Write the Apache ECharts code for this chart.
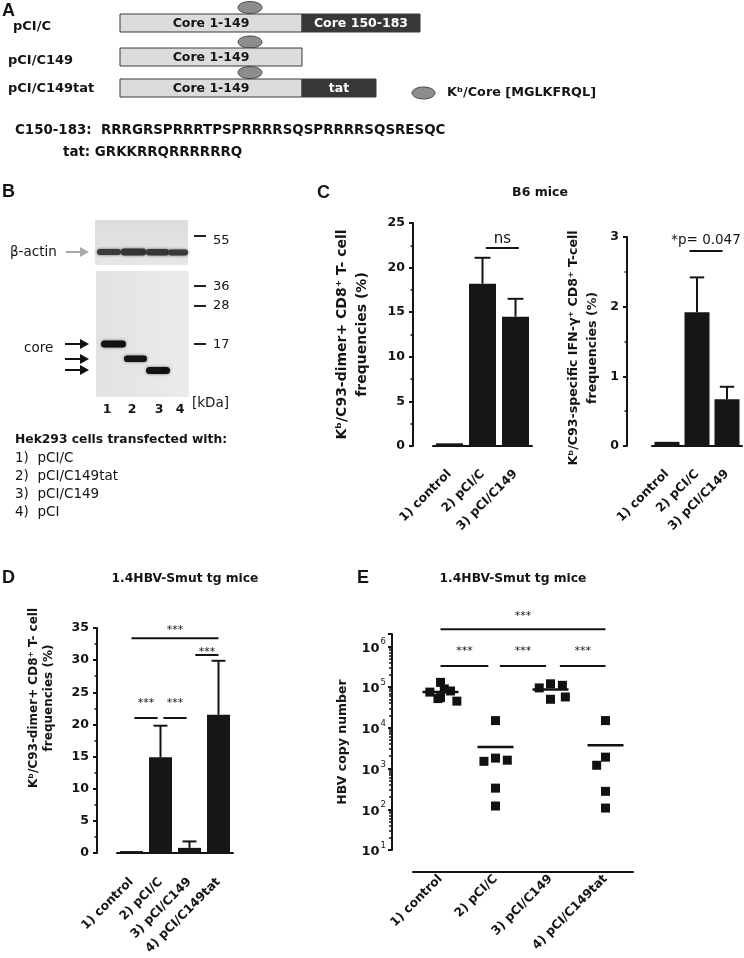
<!DOCTYPE html>
<html><head><meta charset="utf-8">
<script src="https://cdn.jsdelivr.net/npm/echarts@6/dist/echarts.min.js"></script>
<style>html,body{margin:0;padding:0;background:#fff}#chart{width:744px;height:958px}</style>
</head><body><div id="chart"></div>
<script>
// ---------------- data ----------------
const cCategories = ['1) control', '2) pCI/C', '3) pCI/C149'];
const cDimerMean = [0.3, 18.2, 14.5];
const cDimerSD = [0, 2.9, 2.0];
const cIfnMean = [0.06, 1.92, 0.67];
const cIfnSD = [0, 0.5, 0.18];
const dCategories = ['1) control', '2) pCI/C', '3) pCI/C149', '4) pCI/C149tat'];
const dDimerMean = [0.3, 14.9, 0.8, 21.5];
const dDimerSD = [0, 4.9, 1.0, 8.4];
const eCategories = ['1) control', '2) pCI/C', '3) pCI/C149', '4) pCI/C149tat'];
const eControl = [130000, 55000, 75000, 80000, 45000, 52000, 90000];
const ePCIC = [15000, 1800, 1500, 1600, 330, 120];
const ePCIC149 = [120000, 95000, 110000, 50000, 57000];
const ePCIC149tat = [15000, 1900, 1200, 275, 107];
const eGroups = [eControl, ePCIC, ePCIC149, ePCIC149tat];
const eAxisMin = 10, eAxisMax = 2000000;
const eMinorTickLog = [];
[1, 2, 3, 4, 5, 6].forEach(function (d) { for (let k = 2; k <= 9; k++) { const v = Math.log10(k) + d; if (v <= Math.log10(eAxisMax)) eMinorTickLog.push(v); } });
const cDimerBrackets = [{ from: 1.1, to: 2.1, y: 22.2, text: 'ns' }];
const cIfnBrackets = [{ from: 0.75, to: 1.85, y: 2.8, text: '*p= 0.047' }];
const dBrackets = [
  { from: 0, to: 3, y: 33.4, text: '***' },
  { from: 0.1, to: 0.9, y: 21, text: '***' },
  { from: 1.1, to: 1.9, y: 21, text: '***' },
  { from: 2.2, to: 3, y: 30.8, text: '***' }
];
const eBrackets = [
  { from: 0, to: 3, y: 2.6e6, text: '***' },
  { from: 0, to: 0.87, y: 3.3e5, text: '***' },
  { from: 1.08, to: 1.92, y: 3.3e5, text: '***' },
  { from: 2.17, to: 3, y: 3.3e5, text: '***' }
];

// ---------------- styles ----------------
const FF = "'DejaVu Sans', sans-serif";
const INK = '#141414';
const bold = function (s) { return 'bold ' + s + 'px ' + FF; };
const reg = function (s) { return s + 'px ' + FF; };

function yAxisBase(grid, offset, extra) {
  return Object.assign({
    gridIndex: grid, type: 'value', offset: offset,
    axisLine: { show: true, lineStyle: { color: INK, width: 2 } },
    axisTick: { show: true, length: 4, lineStyle: { color: INK, width: 2 } },
    minorTick: { show: true, splitNumber: 2, length: 2.5, lineStyle: { color: INK, width: 1.5 } },
    splitLine: { show: false }, minorSplitLine: { show: false },
    axisLabel: { color: INK, fontFamily: FF, fontWeight: 'bold', fontSize: 12.5, margin: 8 },
    nameLocation: 'middle', nameRotate: 90
  }, extra);
}
function xAxisBase(grid, offset, cats, extra) {
  return Object.assign({
    gridIndex: grid, type: 'category', data: cats, offset: offset,
    axisLine: { show: true, lineStyle: { color: INK, width: 2 } },
    axisTick: { show: false },
    axisLabel: { interval: 0, rotate: 45, color: INK, fontFamily: FF, fontWeight: 'bold', fontSize: 12.3, margin: 5 }
  }, extra);
}
function errRender(params, api) {
  const x = api.value(0), m = api.value(1), e = api.value(2);
  if (!(e > 0)) return null;
  const p0 = api.coord([x, m]);
  const p1 = api.coord([x, m + e]);
  const hw = api.size([1, 0])[0] * 0.24;
  return { type: 'group', children: [
    { type: 'line', shape: { x1: p0[0], y1: p0[1], x2: p1[0], y2: p1[1] }, style: { stroke: INK, lineWidth: 2 } },
    { type: 'line', shape: { x1: p1[0] - hw, y1: p1[1], x2: p1[0] + hw, y2: p1[1] }, style: { stroke: INK, lineWidth: 2 } }
  ] };
}
function errData(means, sds) { return means.map(function (m, i) { return [i, m, sds[i]]; }); }

const scatterData = [];
eGroups.forEach(function (g, gi) { g.forEach(function (v) { scatterData.push([gi, v]); }); });
const meanData = eGroups.map(function (g, gi) { return [gi, g.reduce(function (a, b) { return a + b; }, 0) / g.length]; });

const option = {
  animation: false,
  backgroundColor: '#fff',
  grid: [
    { left: 433, top: 223, width: 99, height: 223 },
    { left: 652, top: 237, width: 90, height: 209 },
    { left: 117, top: 628, width: 116, height: 225 },
    { left: 413, top: 634, width: 220, height: 216 }
  ],
  xAxis: [
    xAxisBase(0, 21, cCategories),
    xAxisBase(1, 21, cCategories),
    xAxisBase(2, 22, dCategories),
    xAxisBase(3, 22, eCategories, { jitter: 40, jitterOverlap: false, jitterMargin: 3 }),
    { gridIndex: 3, type: 'category', data: eCategories, show: false }
  ],
  yAxis: [
    yAxisBase(0, 20, { min: 0, max: 25, interval: 5,
      name: 'K\u1d47/C93-dimer+ CD8\u207a T- cell\nfrequencies (%)', nameGap: 41,
      nameTextStyle: { color: INK, fontFamily: FF, fontWeight: 'bold', fontSize: 14, lineHeight: 20 } }),
    yAxisBase(1, 25, { min: 0, max: 3, interval: 1,
      name: 'K\u1d47/C93-specific IFN-\u03b3\u207a CD8\u207a T-cell\nfrequencies (%)', nameGap: 25,
      nameTextStyle: { color: INK, fontFamily: FF, fontWeight: 'bold', fontSize: 12.6, lineHeight: 19, padding: [0, 13, 0, 0] } }),
    yAxisBase(2, 20, { min: 0, max: 35, interval: 5,
      name: 'K\u1d47/C93-dimer+ CD8\u207a T- cell\nfrequencies (%)', nameGap: 41,
      nameTextStyle: { color: INK, fontFamily: FF, fontWeight: 'bold', fontSize: 12, lineHeight: 15, padding: [0, 0, 0, 85] } }),
    yAxisBase(3, 21, { type: 'log', logBase: 10, min: eAxisMin, max: eAxisMax, minorTick: { show: false },
      name: 'HBV copy number', nameGap: 43,
      nameTextStyle: { color: INK, fontFamily: FF, fontWeight: 'bold', fontSize: 12.5 },
      axisLabel: {
        margin: 6,
        formatter: function (v) {
          const e = Math.round(Math.log10(v));
          if (Math.abs(v - Math.pow(10, e)) > 1e-6 * v) return '';
          return '{b|10}{s|' + e + '}';
        },
        rich: {
          b: { fontFamily: FF, fontWeight: 'bold', fontSize: 13, color: INK, verticalAlign: 'bottom', lineHeight: 17 },
          s: { fontFamily: FF, fontSize: 8.5, color: INK, verticalAlign: 'top', lineHeight: 17, padding: [0, 0, 0, 1] }
        }
      } }),
    // minor log ticks (2..9 x 10^n), on a linear log10 axis spanning the same range
    { gridIndex: 3, type: 'value', min: Math.log10(eAxisMin), max: Math.log10(eAxisMax), offset: 21, position: 'left',
      axisLine: { show: false }, axisLabel: { show: false }, splitLine: { show: false },
      axisTick: { show: true, length: 3, customValues: eMinorTickLog, lineStyle: { color: INK, width: 1.5 } } }
  ],
  series: [
    { type: 'bar', xAxisIndex: 0, yAxisIndex: 0, data: cDimerMean, barWidth: 27, itemStyle: { color: '#161616' }, z: 2 },
    { type: 'custom', xAxisIndex: 0, yAxisIndex: 0, data: errData(cDimerMean, cDimerSD), renderItem: errRender, z: 3 },
    { type: 'bar', xAxisIndex: 1, yAxisIndex: 1, data: cIfnMean, barWidth: 25, itemStyle: { color: '#161616' }, z: 2 },
    { type: 'custom', xAxisIndex: 1, yAxisIndex: 1, data: errData(cIfnMean, cIfnSD), renderItem: errRender, z: 3 },
    { type: 'bar', xAxisIndex: 2, yAxisIndex: 2, data: dDimerMean, barWidth: 23, itemStyle: { color: '#161616' }, z: 2 },
    { type: 'custom', xAxisIndex: 2, yAxisIndex: 2, data: errData(dDimerMean, dDimerSD), renderItem: errRender, z: 3 },
    { type: 'scatter', xAxisIndex: 3, yAxisIndex: 3, data: scatterData, symbol: 'rect', symbolSize: 9, itemStyle: { color: '#111', opacity: 1 }, z: 3 },
    { type: 'scatter', xAxisIndex: 4, yAxisIndex: 3, data: meanData, symbol: 'rect', symbolSize: [36, 2.5], itemStyle: { color: '#111', opacity: 1 }, z: 4 }
  ]
};

// ---------------- static graphics (panels A, B, letters, titles) ----------------
const G = [];
function T(x, y, text, font, o) {
  G.push(Object.assign({ type: 'text', x: x, y: y, z: 20,
    style: Object.assign({ text: text, font: font, fill: INK, textAlign: 'left', align: 'left', textVerticalAlign: 'middle', verticalAlign: 'middle' }, o || {}) }));
}
function R(x, y, w, h, style, r) { G.push({ type: 'rect', z: 15, shape: { x: x, y: y, width: w, height: h, r: r || 0 }, style: style }); }
function E(cx, cy, rx, ry) { G.push({ type: 'ellipse', z: 14, shape: { cx: cx, cy: cy, rx: rx, ry: ry }, style: { fill: '#8d8d8d', stroke: '#4a4a4a', lineWidth: 1 } }); }
function L(x1, y1, x2, y2, color, w) { G.push({ type: 'line', z: 16, shape: { x1: x1, y1: y1, x2: x2, y2: y2 }, style: { stroke: color, lineWidth: w } }); }
function ARROW(x1, x2, y, color) {
  L(x1, y, x2 - 7, y, color, 2);
  G.push({ type: 'polygon', z: 16, shape: { points: [[x2 - 9, y - 5], [x2, y], [x2 - 9, y + 5]] }, style: { fill: color } });
}
const CENTER = { textAlign: 'center', align: 'center' };
const LETTER = "bold 18px 'Liberation Sans', Arial, sans-serif";

// Panel A
T(2, 11, 'A', LETTER);
T(13, 26.5, 'pCI/C', bold(13));
T(8, 61, 'pCI/C149', bold(13));
T(8, 89, 'pCI/C149tat', bold(13));
E(250, 7.5, 12, 6); E(250, 42, 12, 6); E(250, 72.5, 12, 6);
const boxStroke = { stroke: '#3a3a3a', lineWidth: 1 };
R(120, 14, 182, 18, Object.assign({ fill: '#dcdcdc' }, boxStroke));
R(302, 14, 118, 18, Object.assign({ fill: '#383838' }, boxStroke));
R(120, 48, 182, 18, Object.assign({ fill: '#dcdcdc' }, boxStroke));
R(120, 79, 182, 18, Object.assign({ fill: '#dcdcdc' }, boxStroke));
R(302, 79, 74, 18, Object.assign({ fill: '#383838' }, boxStroke));
T(211, 23.5, 'Core 1-149', bold(12.5), CENTER);
T(361, 23.5, 'Core 150-183', bold(12.5), Object.assign({ fill: '#fff' }, CENTER));
T(211, 57.5, 'Core 1-149', bold(12.5), CENTER);
T(211, 88.5, 'Core 1-149', bold(12.5), CENTER);
T(339, 88.5, 'tat', bold(12.5), Object.assign({ fill: '#fff' }, CENTER));
E(423.5, 93, 11.5, 6);
T(447, 93, 'K\u1d47/Core [MGLKFRQL]', bold(12.8));
T(15, 131, 'C150-183:  RRRGRSPRRRTPSPRRRRSQSPRRRRSQSRESQC', bold(13.4));
T(63, 153, 'tat: GRKKRRQRRRRRRQ', bold(13.4));

// Panel B (western blot)
T(2, 192, 'B', LETTER);
R(95, 220, 93, 45, { fill: { type: 'linear', x: 0, y: 0, x2: 0, y2: 1, colorStops: [{ offset: 0, color: '#dcdcdc' }, { offset: 1, color: '#e6e6e6' }] } });
R(96, 271, 93, 126, { fill: { type: 'linear', x: 0, y: 0, x2: 1, y2: 0, colorStops: [{ offset: 0, color: '#e2e2e2' }, { offset: 1, color: '#ebebeb' }] } });
const bandStyle = function (c) { return { fill: c, shadowBlur: 3, shadowColor: 'rgba(0,0,0,0.55)' }; };
R(97, 249, 24, 6, bandStyle('#3a3a3a'), 3);
R(121, 248.5, 25, 7, bandStyle('#333'), 3);
R(146, 249, 23, 6.5, bandStyle('#363636'), 3);
R(168, 249.5, 20, 6, bandStyle('#3a3a3a'), 3);
R(101, 340.5, 25, 7, bandStyle('#111'), 3.5);
R(124, 355.5, 23, 6.5, bandStyle('#151515'), 3);
R(146, 367, 24, 7, bandStyle('#111'), 3.5);
T(10, 252, '\u03b2-actin', reg(13.5));
ARROW(66, 89, 252, '#a8a8a8');
T(24, 348, 'core', reg(13.5));
ARROW(65, 89, 344, '#111');
ARROW(65, 89, 359, '#111');
ARROW(65, 89, 370, '#111');
[[236, '55', 241], [286, '36', 287], [306, '28', 306], [344, '17', 345]].forEach(function (m) {
  L(194, m[0], 206, m[0], '#222', 2);
  T(213, m[2], m[1], reg(13));
});
T(107, 410, '1', bold(12.5), CENTER);
T(132, 410, '2', bold(12.5), CENTER);
T(159, 410, '3', bold(12.5), CENTER);
T(180, 410, '4', bold(12.5), CENTER);
T(192, 403, '[kDa]', reg(13.5));
T(15, 440, 'Hek293 cells transfected with:', bold(12.3));
T(15, 458, '1)  pCI/C', reg(13.5));
T(15, 476, '2)  pCI/C149tat', reg(13.5));
T(15, 494, '3)  pCI/C149', reg(13.5));
T(15, 512, '4)  pCI', reg(13.5));

// Panel letters & titles
T(317, 193, 'C', LETTER);
T(540, 193, 'B6 mice', bold(12.5), CENTER);
T(2, 578, 'D', LETTER);
T(185, 579, '1.4HBV-Smut tg mice', bold(12.3), CENTER);
T(357, 578, 'E', LETTER);
T(513, 579, '1.4HBV-Smut tg mice', bold(12.3), CENTER);

const chart = echarts.init(document.getElementById('chart'), null, { renderer: 'canvas', width: 744, height: 958 });
chart.setOption(option);

// ---------------- significance brackets, placed through the axes' own scales ----------------
function addBrackets(seriesIndex, list, font, gaps) {
  list.forEach(function (b, i) {
    const p0 = chart.convertToPixel({ seriesIndex: seriesIndex }, [0, b.y]);
    const p1 = chart.convertToPixel({ seriesIndex: seriesIndex }, [1, b.y]);
    const band = p1[0] - p0[0];
    const xa = p0[0] + b.from * band, xb = p0[0] + b.to * band;
    L(xa, p0[1], xb, p0[1], INK, 2);
    T((xa + xb) / 2, p0[1] - gaps[i], b.text, font, CENTER);
  });
}
addBrackets(0, cDimerBrackets, reg(15), [9]);
addBrackets(2, cIfnBrackets, reg(13.5), [10]);
addBrackets(4, dBrackets, reg(11), [8.4, 14.4, 14.4, 2.4]);
addBrackets(6, eBrackets, reg(11), [13.4, 14.4, 14.4, 14.4]);

chart.setOption({ graphic: G });
</script></body></html>
